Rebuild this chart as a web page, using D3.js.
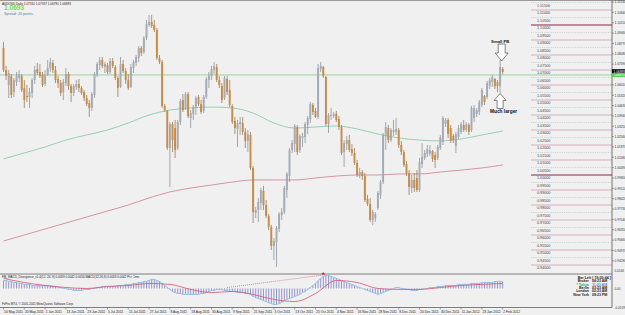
<!DOCTYPE html>
<html><head><meta charset="utf-8">
<script src="https://cdn.jsdelivr.net/npm/d3@7"></script>
<style>html,body{margin:0;padding:0;background:#f0f0f0;overflow:hidden}svg{display:block}</style>
</head><body>
<svg id="c" width="625" height="315"></svg>
<script>
// ---------------- DATA ----------------
const opens = [
1.0847,1.0700,1.0600,1.0660,1.0553,1.0620,1.0647,1.0660,
1.0580,1.0527,1.0520,1.0547,1.0633,1.0707,1.0687,1.0667,
1.0607,1.0667,1.0713,1.0747,1.0700,1.0640,1.0613,1.0553,
1.0613,1.0673,1.0593,1.0547,1.0587,1.0607,1.0580,1.0553,
1.0513,1.0480,1.0447,1.0533,1.0667,1.0733,1.0767,1.0720,
1.0733,1.0687,1.0760,1.0720,1.0647,1.0587,1.0740,1.0693,
1.0633,1.0587,1.0713,1.0747,1.0780,1.0847,1.0820,1.0913,
1.1000,1.1020,1.1000,1.0967,1.0780,1.0753,1.0460,1.0427,
1.0180,1.0340,1.0313,1.0180,1.0353,1.0500,1.0447,1.0540,
1.0380,1.0407,1.0447,1.0520,1.0473,1.0427,1.0520,1.0633,
1.0660,1.0700,1.0720,1.0633,1.0593,1.0513,1.0640,1.0567,
1.0460,1.0360,1.0307,1.0340,1.0347,1.0287,1.0227,1.0267,
1.0047,0.9747,0.9767,0.9813,0.9893,0.9800,0.9727,0.9653,
0.9527,0.9553,0.9640,0.9733,0.9753,0.9900,0.9993,1.0167,
1.0207,1.0320,1.0167,1.0247,1.0253,1.0333,1.0373,1.0467,
1.0427,1.0387,1.0707,1.0720,1.0653,1.0340,1.0393,1.0393,
1.0407,1.0373,1.0320,1.0153,1.0207,1.0233,1.0173,1.0147,
1.0080,1.0000,1.0020,0.9993,0.9840,0.9807,0.9700,0.9713,
0.9780,0.9867,0.9953,1.0260,1.0313,1.0233,1.0287,1.0287,
1.0300,1.0200,1.0153,1.0073,1.0013,0.9913,0.9967,0.9980,
0.9900,1.0073,1.0113,1.0140,1.0140,1.0160,1.0133,1.0113,
1.0180,1.0220,1.0340,1.0367,1.0313,1.0260,1.0193,1.0253,
1.0287,1.0333,1.0300,1.0333,1.0300,1.0380,1.0407,1.0420,
1.0467,1.0527,1.0520,1.0593,1.0620,1.0640,1.0620,1.0593,
1.0707];
const highs = [
1.0887,1.0727,1.0700,1.0673,1.0647,1.0687,1.0700,1.0673,
1.0633,1.0600,1.0580,1.0647,1.0727,1.0747,1.0740,1.0687,
1.0700,1.0767,1.0780,1.0767,1.0727,1.0660,1.0633,1.0640,
1.0713,1.0687,1.0607,1.0607,1.0633,1.0640,1.0593,1.0567,
1.0533,1.0500,1.0553,1.0687,1.0753,1.0787,1.0787,1.0753,
1.0747,1.0780,1.0780,1.0733,1.0660,1.0787,1.0767,1.0713,
1.0673,1.0740,1.0767,1.0800,1.0860,1.0860,1.0927,1.1033,
1.1067,1.1067,1.1033,1.0980,1.0800,1.0767,1.0473,1.0433,
1.0353,1.0353,1.0367,1.0367,1.0507,1.0540,1.0553,1.0553,
1.0433,1.0467,1.0527,1.0533,1.0500,1.0533,1.0653,1.0687,
1.0727,1.0753,1.0740,1.0660,1.0613,1.0660,1.0660,1.0633,
1.0473,1.0387,1.0367,1.0387,1.0387,1.0313,1.0300,1.0287,
1.0060,0.9787,0.9847,0.9913,0.9927,0.9833,0.9740,0.9667,
0.9580,0.9660,0.9753,0.9780,0.9927,1.0020,1.0180,1.0233,
1.0340,1.0333,1.0273,1.0280,1.0353,1.0393,1.0487,1.0480,
1.0447,1.0740,1.0753,1.0727,1.0660,1.0413,1.0447,1.0420,
1.0427,1.0393,1.0333,1.0233,1.0260,1.0267,1.0207,1.0180,
1.0100,1.0047,1.0033,1.0013,0.9867,0.9847,0.9767,0.9753,
0.9893,0.9967,1.0280,1.0353,1.0333,1.0313,1.0367,1.0380,
1.0313,1.0227,1.0167,1.0093,1.0033,1.0000,1.0013,1.0033,
1.0113,1.0213,1.0167,1.0200,1.0200,1.0167,1.0153,1.0200,
1.0267,1.0393,1.0380,1.0380,1.0333,1.0273,1.0287,1.0333,
1.0353,1.0367,1.0353,1.0347,1.0460,1.0467,1.0447,1.0500,
1.0580,1.0533,1.0627,1.0647,1.0667,1.0647,1.0633,1.0767,
1.0720];
const lows = [
1.0687,1.0633,1.0513,1.0513,1.0520,1.0593,1.0620,1.0553,
1.0447,1.0487,1.0447,1.0513,1.0607,1.0667,1.0647,1.0587,
1.0593,1.0660,1.0687,1.0680,1.0613,1.0580,1.0527,1.0500,
1.0593,1.0567,1.0487,1.0527,1.0567,1.0553,1.0533,1.0493,
1.0460,1.0387,1.0427,1.0513,1.0653,1.0700,1.0713,1.0680,
1.0673,1.0673,1.0713,1.0633,1.0520,1.0580,1.0680,1.0607,
1.0567,1.0580,1.0680,1.0727,1.0753,1.0793,1.0807,1.0900,
1.0987,1.0980,1.0953,1.0767,1.0740,1.0447,1.0420,1.0167,
0.9920,1.0153,1.0113,1.0167,1.0333,1.0420,1.0433,1.0380,
1.0313,1.0367,1.0400,1.0460,1.0407,1.0413,1.0507,1.0580,
1.0633,1.0673,1.0620,1.0580,1.0480,1.0500,1.0533,1.0453,
1.0340,1.0273,1.0187,1.0267,1.0267,1.0180,1.0153,1.0033,
0.9680,0.9713,0.9687,0.9767,0.9767,0.9713,0.9633,0.9500,
0.9433,0.9387,0.9620,0.9700,0.9740,0.9847,0.9953,1.0147,
1.0153,1.0133,1.0147,1.0187,1.0213,1.0273,1.0347,1.0400,
1.0380,1.0373,1.0687,1.0647,1.0327,1.0280,1.0367,1.0380,
1.0353,1.0300,1.0133,1.0053,1.0167,1.0153,1.0127,1.0067,
0.9987,0.9980,0.9967,0.9820,0.9793,0.9687,0.9667,0.9687,
0.9767,0.9840,0.9940,1.0167,1.0213,1.0220,1.0260,1.0267,
1.0180,1.0133,1.0053,0.9993,0.9867,0.9880,0.9887,0.9887,
0.9887,1.0047,1.0100,1.0120,1.0127,1.0087,1.0047,1.0100,
1.0167,1.0200,1.0320,1.0247,1.0213,1.0213,1.0147,1.0240,
1.0273,1.0287,1.0287,1.0267,1.0287,1.0353,1.0387,1.0400,
1.0453,1.0467,1.0507,1.0573,1.0587,1.0573,1.0553,1.0547,
1.0673];
const closes = [
1.0700,1.0660,1.0680,1.0533,1.0633,1.0660,1.0673,1.0567,
1.0500,1.0520,1.0553,1.0633,1.0700,1.0680,1.0660,1.0600,
1.0667,1.0713,1.0753,1.0700,1.0633,1.0613,1.0547,1.0620,
1.0673,1.0593,1.0547,1.0593,1.0607,1.0580,1.0547,1.0513,
1.0473,1.0447,1.0540,1.0673,1.0740,1.0767,1.0727,1.0740,
1.0687,1.0760,1.0727,1.0647,1.0580,1.0740,1.0693,1.0633,
1.0580,1.0720,1.0753,1.0787,1.0847,1.0813,1.0913,1.1007,
1.1020,1.0993,1.0967,1.0780,1.0753,1.0460,1.0433,1.0180,
1.0340,1.0233,1.0167,1.0353,1.0493,1.0433,1.0540,1.0393,
1.0413,1.0453,1.0513,1.0473,1.0420,1.0520,1.0640,1.0660,
1.0707,1.0727,1.0633,1.0600,1.0500,1.0647,1.0553,1.0467,
1.0353,1.0313,1.0347,1.0353,1.0287,1.0227,1.0273,1.0047,
0.9753,0.9767,0.9820,0.9900,0.9800,0.9727,0.9653,0.9527,
0.9560,0.9647,0.9740,0.9753,0.9913,1.0007,1.0167,1.0213,
1.0327,1.0153,1.0260,1.0260,1.0340,1.0380,1.0473,1.0420,
1.0387,1.0713,1.0727,1.0660,1.0340,1.0400,1.0400,1.0407,
1.0367,1.0320,1.0147,1.0213,1.0233,1.0167,1.0147,1.0080,
1.0000,1.0020,0.9993,0.9833,0.9807,0.9700,0.9753,0.9740,
0.9880,0.9953,1.0267,1.0320,1.0233,1.0300,1.0300,1.0307,
1.0200,1.0153,1.0067,1.0013,0.9920,0.9967,0.9913,0.9900,
1.0087,1.0120,1.0147,1.0173,1.0167,1.0107,1.0100,1.0187,
1.0253,1.0380,1.0367,1.0273,1.0233,1.0233,1.0273,1.0313,
1.0340,1.0300,1.0340,1.0287,1.0447,1.0447,1.0433,1.0487,
1.0567,1.0487,1.0613,1.0633,1.0653,1.0593,1.0593,1.0720,
1.0687];

// every 8th bar: index, date label, moving averages, MACD signal
const labelIdx = [0,8,16,24,32,40,48,56,64,72,80,88,96,104,112,120,128,136,144,152,160,168,176,184,192];
const timeLabels = ["10 May 2011","20 May 2011","1 Jun 2011","13 Jun 2011","23 Jun 2011","5 Jul 2011","15 Jul 2011","27 Jul 2011","8 Aug 2011","18 Aug 2011","30 Aug 2011","9 Sep 2011","21 Sep 2011","3 Oct 2011","13 Oct 2011","25 Oct 2011","4 Nov 2011","16 Nov 2011","28 Nov 2011","8 Dec 2011","20 Dec 2011","30 Dec 2011","11 Jan 2012","23 Jan 2012","2 Feb 2012"];
const maGreen = [1.0107,1.0147,1.0187,1.0233,1.0267,1.0300,1.0347,1.0400,1.0433,1.0447,1.0453,1.0447,1.0413,1.0347,1.0313,1.0320,1.0327,1.0307,1.0273,1.0247,1.0233,1.0227,1.0240,1.0267,1.0293];
const maRed = [0.9560,0.9600,0.9640,0.9680,0.9720,0.9760,0.9800,0.9847,0.9887,0.9913,0.9933,0.9953,0.9967,0.9967,0.9967,0.9980,0.9993,1.0000,1.0000,1.0007,1.0007,1.0020,1.0033,1.0047,1.0067];
const macdSignal = [0.0084,0.0050,0.0025,0.0008,0,0.0017,0.0025,0.0042,0.0034,-0.0008,-0.0034,-0.0025,-0.0050,-0.0092,-0.0109,-0.0042,0.0067,0.0050,0,-0.0008,-0.0008,0.0008,0.0025,0.0034,0.0042];

const macd = [
0.0067,0.0067,0.0059,0.0059,0.0050,0.0050,0.0042,0.0042,
0.0034,0.0034,0.0034,0.0025,0.0025,0.0025,0.0025,0.0025,
0.0025,0.0025,0.0025,0.0017,0.0017,0.0008,0.0008,0,
0,-0.0008,-0.0008,-0.0017,-0.0017,-0.0017,-0.0017,-0.0008,-0.0008,-0.0008,
0,0,0.0008,0.0008,0.0017,0.0017,0.0017,0.0017,0.0017,0.0017,0.0025,
0.0025,0.0025,0.0034,0.0034,0.0034,0.0042,0.0042,0.0050,0.0050,0.0059,0.0059,
0.0067,0.0076,0.0076,0.0067,0.0059,
0.0042,0.0025,0.0008,-0.0008,-0.0025,-0.0034,
-0.0042,-0.0042,-0.0050,-0.0050,-0.0050,-0.0050,-0.0050,-0.0050,-0.0050,-0.0042,-0.0042,-0.0034,-0.0025,-0.0017,-0.0017,-0.0008,
-0.0008,-0.0008,-0.0017,-0.0017,-0.0025,-0.0025,
-0.0025,-0.0034,-0.0034,-0.0034,-0.0042,-0.0042,-0.0050,
-0.0067,-0.0076,-0.0084,-0.0092,-0.0101,-0.0109,-0.0118,-0.0126,-0.0134,-0.0134,
-0.0126,-0.0118,-0.0101,-0.0092,-0.0084,-0.0076,-0.0067,
-0.0059,-0.0050,-0.0034,-0.0025,-0.0008,0.0008,0.0025,0.0042,
0.0067,0.0084,0.0101,0.0109,0.0109,0.0101,
0.0092,0.0084,0.0076,0.0067,0.0059,0.0050,0.0042,0.0034,
0.0025,0.0017,0.0008,0,-0.0008,-0.0017,-0.0025,-0.0034,-0.0042,-0.0050,
-0.0042,-0.0034,-0.0025,-0.0017,-0.0008,0,
0.0008,0.0008,0,0,-0.0008,
-0.0008,-0.0017,-0.0017,-0.0017,-0.0008,-0.0008,0,0,
0.0008,0.0008,0.0008,0.0017,0.0017,0.0017,0.0025,0.0025,
0.0025,0.0025,0.0025,0.0034,0.0034,0.0034,0.0034,0.0034,0.0042,0.0042,
0.0042,0.0042,0.0050,0.0050,0.0050,0.0050,0.0050,0.0059,0.0059,0.0059,0.0059];

const divergence = [{i:86, v:0.0008},{i:123, v:0.0113}];
const levels = [1.115,1.110,1.105,1.100,1.095,1.090,1.085,1.080,1.075,1.070,1.065,1.060,1.055,1.050,1.045,1.040,1.035,1.030,1.025,1.020,1.015,1.010,1.005,1.000,0.995,0.990,0.985,0.980,0.975,0.970,0.965,0.960,0.955,0.950,0.945,0.940];
const majorLevels = [1.100,1.000];
const axisTicks = [1.1153,1.1084,1.1015,1.0946,1.0877,1.0808,1.0739,1.0601,1.0532,1.0463,1.0394,1.0325,1.0256,1.0187,1.0118,1.0049,0.9980,0.9911,0.9842,0.9773,0.9704,0.9635,0.9566,0.9497,0.9428];
const bidPrice = 1.06893;
const hLinePrice = 1.0667;
const macdAxis = [{v:0.0146,t:"0.0146"},{v:0,t:"0.00"},{v:-0.0159,t:"-0.0159"}];
const clockLabels = ["Broker","* Tokyo","Berlin","London","New York"];
const clockTimes = ["04:23 AM","11:23 AM","03:23 AM","02:23 AM","09:23 PM"];

// ---------------- DRAW ----------------
const svg = d3.select("#c");
const FONT = "'Liberation Sans', Arial, sans-serif";
const x = d3.scaleLinear().domain([0,192]).range([3.5,502.7]);
const y = d3.scaleLinear().domain([0.94,1.11667]).range([265,0]);
const ym = d3.scaleLinear().domain([-0.0159,0.0146]).range([307.5,271]);

svg.append("rect").attr("width",625).attr("height",315).attr("fill","#f0f0f0");
svg.append("defs").append("clipPath").attr("id","mainclip").append("rect").attr("x",0).attr("y",1).attr("width",612).attr("height",273);
const main = svg.append("g").attr("clip-path","url(#mainclip)");

// level lines in the price column
levels.forEach(L=>{
  const k = Math.round(L*1000);
  const solid = k % 10 === 0;
  const major = majorLevels.some(m=>Math.abs(m-L)<1e-6);
  main.append("line").attr("x1",531).attr("x2",612).attr("y1",y(L)).attr("y2",y(L))
    .attr("stroke", major ? "#8a2442" : (solid ? "#d7a6b6" : "#b8b8b8"))
    .attr("stroke-width", major ? 1.1 : (solid ? 0.9 : 0.6))
    .attr("stroke-dasharray", solid ? null : "1,1.2");
  main.append("text").attr("x",537).attr("y",y(L)+4.1).text(L.toFixed(5))
    .attr("font-family",FONT).attr("font-size",3.7).attr("fill","#444");
});

// horizontal green line
main.append("line").attr("x1",0).attr("x2",612).attr("y1",y(hLinePrice)).attr("y2",y(hLinePrice))
  .attr("stroke","#8fd48f").attr("stroke-width",0.9);

// moving averages
const maLine = d3.line().x((d,k)=>x(labelIdx[k])).y(d=>y(d)).curve(d3.curveMonotoneX);
main.append("path").datum(maGreen).attr("d",maLine).attr("fill","none").attr("stroke","#8fc9ad").attr("stroke-width",0.9);
main.append("path").datum(maRed).attr("d",maLine).attr("fill","none").attr("stroke","#cf8a9a").attr("stroke-width",0.9);

// candles
const bars = d3.range(opens.length).map(i=>({i,o:opens[i],h:highs[i],l:lows[i],c:closes[i]}));
const cg = main.append("g");
cg.selectAll("line.w").data(bars).join("line").attr("class","w")
  .attr("x1",d=>x(d.i)).attr("x2",d=>x(d.i)).attr("y1",d=>y(d.h)).attr("y2",d=>y(d.l))
  .attr("stroke",d=>d.c>=d.o?"#7f868e":"#8f6a44").attr("stroke-width",0.7);
cg.selectAll("rect.b").data(bars).join("rect").attr("class","b")
  .attr("x",d=>x(d.i)-0.95).attr("width",1.9)
  .attr("y",d=>Math.min(y(d.o),y(d.c)))
  .attr("height",d=>Math.max(0.7,Math.abs(y(d.o)-y(d.c))))
  .attr("fill",d=>d.c>=d.o?"#a3aab3":"#c98a42");

// annotations
const ax1 = x(192)-1, tip1 = y(highs[192])-6;
main.append("path").attr("d",`M${ax1-3.5},${tip1-17}L${ax1+3.5},${tip1-17}L${ax1+3.5},${tip1-8}L${ax1+6.5},${tip1-8}L${ax1},${tip1}L${ax1-6.5},${tip1-8}L${ax1-3.5},${tip1-8}Z`)
  .attr("fill","#fff").attr("stroke","#333").attr("stroke-width",0.6);
main.append("text").attr("x",ax1-1.5).attr("y",tip1-18.5).attr("text-anchor","middle").text("Small PB")
  .attr("font-family",FONT).attr("font-size",4.2).attr("font-weight","bold").attr("fill","#111");
const ax2 = x(191), tip2 = y(lows[191])+0.5;
main.append("path").attr("d",`M${ax2-3},${tip2+15}L${ax2+3},${tip2+15}L${ax2+3},${tip2+7}L${ax2+6},${tip2+7}L${ax2},${tip2}L${ax2-6},${tip2+7}L${ax2-3},${tip2+7}Z`)
  .attr("fill","#fff").attr("stroke","#333").attr("stroke-width",0.6);
main.append("text").attr("x",ax2+3.5).attr("y",tip2+19.5).attr("text-anchor","middle").text("Much larger")
  .attr("font-family",FONT).attr("font-size",4.8).attr("font-weight","bold").attr("fill","#111");

// header texts
svg.append("text").attr("x",2).attr("y",4.6).text("AUDUSD,Daily  1.07310 1.07337 1.06781 1.06893")
  .attr("font-family",FONT).attr("font-size",3.1).attr("fill","#222");
svg.append("text").attr("x",4).attr("y",10.4).text("1.0693")
  .attr("font-family",FONT).attr("font-size",6.6).attr("font-weight","bold").attr("fill","#7fe01a");
svg.append("text").attr("x",4).attr("y",14.8).text("Spread: 20 points.")
  .attr("font-family",FONT).attr("font-size",3.7).attr("fill","#4a7cb4");

// frame lines
svg.append("line").attr("x1",0).attr("x2",625).attr("y1",0.5).attr("y2",0.5).attr("stroke","#9a9a9a").attr("stroke-width",1);
svg.append("line").attr("x1",0).attr("x2",612).attr("y1",274).attr("y2",274).attr("stroke","#606060").attr("stroke-width",0.8);
svg.append("line").attr("x1",0).attr("x2",612).attr("y1",307.5).attr("y2",307.5).attr("stroke","#606060").attr("stroke-width",0.8);
svg.append("line").attr("x1",612).attr("x2",612).attr("y1",0).attr("y2",307.5).attr("stroke","#555").attr("stroke-width",0.8);

// right axis
axisTicks.forEach(v=>{
  svg.append("line").attr("x1",612).attr("x2",614).attr("y1",y(v)).attr("y2",y(v)).attr("stroke","#555").attr("stroke-width",0.5);
  svg.append("text").attr("x",614.5).attr("y",y(v)+1.3).text(v.toFixed(5))
    .attr("font-family",FONT).attr("font-size",3.2).attr("fill","#333");
});
svg.append("rect").attr("x",612).attr("y",y(bidPrice)-2.4).attr("width",13).attr("height",4.6).attr("fill","#000");
svg.append("text").attr("x",613.5).attr("y",y(bidPrice)+1.2).text(bidPrice.toFixed(5))
  .attr("font-family",FONT).attr("font-size",3.3).attr("fill","#fff");
svg.append("rect").attr("x",612).attr("y",y(hLinePrice)-1.6).attr("width",13).attr("height",3.8).attr("fill","#5ccc5c");
svg.append("text").attr("x",613.5).attr("y",y(hLinePrice)+1.4).text(hLinePrice.toFixed(5))
  .attr("font-family",FONT).attr("font-size",3.1).attr("fill","#fff");

// MACD panel
const mg = svg.append("g");
mg.selectAll("line.h").data(macd).join("line").attr("class","h")
  .attr("x1",(d,i)=>x(i)).attr("x2",(d,i)=>x(i)).attr("y1",ym(0)).attr("y2",d=>ym(d))
  .attr("stroke","#6a70c2").attr("stroke-width",0.7);
mg.append("path").datum(macd).attr("d",d3.line().x((d,i)=>x(i)).y(d=>ym(d)))
  .attr("fill","none").attr("stroke","#7db8ea").attr("stroke-width",0.8);
mg.append("path").datum(macdSignal).attr("d",d3.line().x((d,k)=>x(labelIdx[k])).y(d=>ym(d)).curve(d3.curveMonotoneX))
  .attr("fill","none").attr("stroke","#d9536f").attr("stroke-width",0.8);
mg.append("path").datum(divergence).attr("d",d3.line().x(d=>x(d.i)).y(d=>ym(d.v)))
  .attr("fill","none").attr("stroke","#d9536f").attr("stroke-width",0.7).attr("stroke-dasharray","1,1");
const dv = divergence[1];
mg.append("path").attr("d",`M${x(dv.i)-1.8},${ym(dv.v)-0.5}L${x(dv.i)+1.8},${ym(dv.v)-0.5}L${x(dv.i)},${ym(dv.v)-3}Z`).attr("fill","#d0202a");

svg.append("text").attr("x",2).attr("y",278.2).text("FM_MACD_Divergence_v1.4(12, 26, 9)  0.0059 0.0042 0.0050  MACD(12,26,9) 0.0059 0.0042  Pct: 1mn")
  .attr("font-family",FONT).attr("font-size",3).attr("fill","#222");
svg.append("text").attr("x",2).attr("y",304.6).text("FxPro MT4, © 2001-2011 MetaQuotes Software Corp.")
  .attr("font-family",FONT).attr("font-size",3).attr("fill","#222");

macdAxis.forEach(a=>{
  svg.append("text").attr("x",614.5).attr("y",ym(a.v)+1.2).text(a.t)
    .attr("font-family",FONT).attr("font-size",3.1).attr("fill","#333");
});

// clocks
svg.append("text").attr("x",611).attr("y",278.6).attr("text-anchor","end").text("Bar Left [ 19:30:44 ]")
  .attr("font-family",FONT).attr("font-size",3.6).attr("font-weight","bold").attr("fill","#222");
clockLabels.forEach((lab,k)=>{
  const yy = 282.3 + k*3.35;
  svg.append("text").attr("x",589).attr("y",yy).attr("text-anchor","end").text(lab)
    .attr("font-family",FONT).attr("font-size",3.5).attr("font-weight","bold").attr("fill",k===1?"#3aa63a":"#222");
  svg.append("text").attr("x",592).attr("y",yy).text(clockTimes[k])
    .attr("font-family",FONT).attr("font-size",3.5).attr("font-weight","bold").attr("fill",k===1?"#2f96d0":"#222");
});

// time axis
labelIdx.forEach((idx,k)=>{
  svg.append("line").attr("x1",x(idx)).attr("x2",x(idx)).attr("y1",307.5).attr("y2",309.5).attr("stroke","#555").attr("stroke-width",0.5);
  svg.append("text").attr("x",x(idx)+0.6).attr("y",313.4).text(timeLabels[k])
    .attr("font-family",FONT).attr("font-size",3.3).attr("fill","#222");
});
</script>
</body></html>
